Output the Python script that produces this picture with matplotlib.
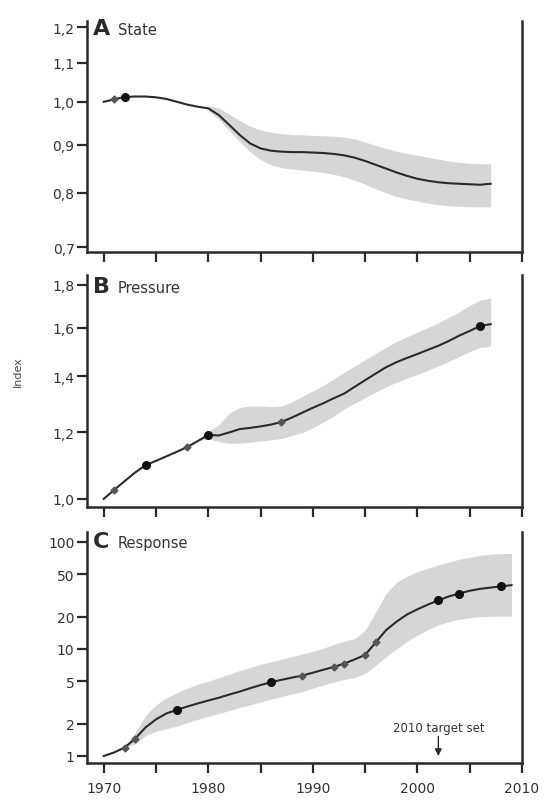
import matplotlib
matplotlib.use("Agg")
import matplotlib.pyplot as plt
from matplotlib.ticker import FixedLocator, FixedFormatter, NullLocator

# ---------------- data ----------------
years_a = list(range(1970, 2008))
state = [1.000, 1.006, 1.012, 1.013, 1.013, 1.011, 1.007, 1.000, 0.993, 0.988,
         0.984, 0.968, 0.945, 0.922, 0.903, 0.892, 0.887, 0.885, 0.884, 0.884,
         0.883, 0.882, 0.880, 0.877, 0.872, 0.865, 0.857, 0.849, 0.841, 0.834,
         0.828, 0.824, 0.821, 0.819, 0.818, 0.817, 0.816, 0.818]
band_years_a = list(range(1980, 2008))
state_lo = [0.978, 0.958, 0.932, 0.907, 0.885, 0.868, 0.857, 0.851, 0.848, 0.846,
            0.844, 0.841, 0.837, 0.832, 0.825, 0.817, 0.808, 0.800, 0.793, 0.788,
            0.784, 0.780, 0.777, 0.775, 0.774, 0.773, 0.773, 0.773]
state_hi = [0.990, 0.985, 0.970, 0.955, 0.942, 0.933, 0.928, 0.925, 0.923, 0.922,
            0.921, 0.920, 0.919, 0.917, 0.913, 0.906, 0.899, 0.892, 0.886, 0.881,
            0.877, 0.873, 0.869, 0.865, 0.862, 0.860, 0.859, 0.859]
state_dots = [1972]
state_small = [1971]

years_b = list(range(1970, 2008))
pressure = [1.000, 1.025, 1.050, 1.075, 1.097, 1.110, 1.124, 1.138, 1.153, 1.172,
            1.192, 1.190, 1.200, 1.211, 1.215, 1.220, 1.226, 1.235, 1.250, 1.267,
            1.284, 1.300, 1.318, 1.335, 1.360, 1.385, 1.410, 1.435, 1.455, 1.472,
            1.488, 1.505, 1.522, 1.542, 1.565, 1.585, 1.607, 1.615]
band_years_b = list(range(1979, 2008))
pressure_lo = [1.172, 1.180, 1.170, 1.165, 1.165, 1.168, 1.172, 1.176, 1.180, 1.190,
               1.200, 1.215, 1.235, 1.255, 1.280, 1.300, 1.320, 1.340, 1.360, 1.377,
               1.392, 1.407, 1.423, 1.440, 1.458, 1.478, 1.498, 1.515, 1.520]
pressure_hi = [1.172, 1.205, 1.225, 1.265, 1.285, 1.290, 1.290, 1.288, 1.290, 1.305,
               1.325, 1.345, 1.365, 1.390, 1.415, 1.440, 1.465, 1.490, 1.515, 1.540,
               1.560, 1.580, 1.600, 1.620, 1.645, 1.670, 1.700, 1.725, 1.735]
pressure_dots = [1974, 1980, 2006]
pressure_small = [1971, 1978, 1987]

years_c = list(range(1970, 2010))
response = [1.0, 1.08, 1.2, 1.45, 1.85, 2.2, 2.5, 2.7, 2.9, 3.1,
            3.3, 3.5, 3.75, 4.0, 4.3, 4.6, 4.9, 5.15, 5.4, 5.65,
            6.0, 6.4, 6.8, 7.3, 8.0, 8.8, 11.5, 15.0, 18.0, 21.0,
            23.5, 26.0, 28.5, 31.0, 33.0, 35.0, 36.5, 37.5, 38.5, 39.5]
band_years_c = list(range(1972, 2010))
response_lo = [1.2, 1.3, 1.55, 1.7, 1.8, 1.9, 2.05, 2.2, 2.35, 2.5,
               2.65, 2.85, 3.0, 3.2, 3.4, 3.6, 3.8, 4.0, 4.3, 4.6,
               4.9, 5.2, 5.4, 5.9, 7.0, 8.5, 10.0, 11.8, 13.5, 15.2,
               16.8, 18.0, 19.0, 19.6, 20.0, 20.2, 20.3, 20.3]
response_hi = [1.2, 1.65, 2.4, 3.0, 3.5, 3.9, 4.3, 4.7, 5.0, 5.4,
               5.8, 6.3, 6.7, 7.2, 7.6, 8.0, 8.5, 9.0, 9.5, 10.2,
               11.0, 11.8, 12.5, 15.0, 22.0, 33.0, 42.0, 48.0, 53.0, 57.0,
               61.0, 65.0, 69.0, 72.0, 75.0, 77.0, 78.0, 78.0]
response_dots = [1977, 1986, 2002, 2004, 2008]
response_small = [1972, 1973, 1989, 1992, 1993, 1995, 1996]
target_year = 2002
target_label = "2010 target set"

panel_letters = ["A", "B", "C"]
panel_names = ["State", "Pressure", "Response"]
ticks_a = [0.7, 0.8, 0.9, 1.0, 1.1, 1.2]
labels_a = ["0,7", "0,8", "0,9", "1,0", "1,1", "1,2"]
ticks_b = [1.0, 1.2, 1.4, 1.6, 1.8]
labels_b = ["1,0", "1,2", "1,4", "1,6", "1,8"]
ticks_c = [1, 2, 5, 10, 20, 50, 100]
labels_c = ["1", "2", "5", "10", "20", "50", "100"]
x_ticks = list(range(1970, 2011, 5))
x_labels = ["1970", "", "1980", "", "1990", "", "2000", "", "2010"]
y_label = "Index"

# ---------------- figure ----------------
W, H = 547, 803
fig = plt.figure(figsize=(W / 100, H / 100), dpi=100)

def frac_box(top_px, bot_px, left_px=87, right_px=522):
    return [left_px / W, 1 - bot_px / H, (right_px - left_px) / W, (bot_px - top_px) / H]

axA = fig.add_axes(frac_box(22, 253))
axB = fig.add_axes(frac_box(276, 508))
axC = fig.add_axes(frac_box(533, 764))

INK = "#2a2a2a"
BAND = "#d6d6d6"

def style(ax, ylim, ticks, labels, show_x_labels):
    ax.set_yscale("log")
    ax.set_xlim(1968.4, 2010)
    ax.set_ylim(*ylim)
    ax.yaxis.set_major_locator(FixedLocator(ticks))
    ax.yaxis.set_major_formatter(FixedFormatter(labels))
    ax.yaxis.set_minor_locator(NullLocator())
    ax.xaxis.set_major_locator(FixedLocator(x_ticks))
    ax.xaxis.set_minor_locator(NullLocator())
    if show_x_labels:
        ax.xaxis.set_major_formatter(FixedFormatter(x_labels))
    else:
        ax.xaxis.set_major_formatter(FixedFormatter([""] * len(x_ticks)))
    ax.spines["top"].set_visible(False)
    for s in ["left", "right", "bottom"]:
        ax.spines[s].set_linewidth(1.8)
        ax.spines[s].set_color(INK)
    ax.tick_params(axis="both", direction="out", length=7, width=1.6,
                   color=INK, labelcolor="#333333", labelsize=10)
    ax.tick_params(axis="x", pad=6)
    ax.tick_params(axis="y", pad=2, right=False)

def draw(ax, yrs, vals, byrs, lo, hi, dots, small):
    ax.fill_between(byrs, lo, hi, color=BAND, lw=0, zorder=1)
    ax.plot(yrs, vals, color=INK, lw=1.5, zorder=2)
    lookup = dict(zip(yrs, vals))
    ax.plot(small, [lookup[y] for y in small], ls="none", marker="D",
            ms=3.5, color="#555555", zorder=3)
    ax.plot(dots, [lookup[y] for y in dots], ls="none", marker="o",
            ms=5.5, color="#111111", zorder=4)

draw(axA, years_a, state, band_years_a, state_lo, state_hi, state_dots, state_small)
draw(axB, years_b, pressure, band_years_b, pressure_lo, pressure_hi, pressure_dots, pressure_small)
draw(axC, years_c, response, band_years_c, response_lo, response_hi, response_dots, response_small)

style(axA, (0.692, 1.219), ticks_a, labels_a, False)
style(axB, (0.978, 1.848), ticks_b, labels_b, False)
style(axC, (0.86, 124), ticks_c, labels_c, True)

title_y = [0.944, 0.927, 0.935]
for ax, letter, name, ty in zip([axA, axB, axC], panel_letters, panel_names, title_y):
    ax.text(0.013, ty, letter, transform=ax.transAxes, fontsize=16,
            fontweight="bold", color=INK, va="baseline", ha="left")
    ax.text(0.071, ty, name, transform=ax.transAxes, fontsize=10.5,
            color="#333333", va="baseline", ha="left")

axC.annotate(target_label, xy=(target_year, 1.0), xytext=(target_year, 1.62),
             ha="center", va="bottom", fontsize=8.5, color="#333333",
             arrowprops=dict(arrowstyle="-|>", color=INK, lw=1.0,
                             mutation_scale=10, shrinkA=0, shrinkB=0))

fig.text(18 / W, 1 - 372 / H, y_label, rotation=90, fontsize=8,
         color="#444444", ha="center", va="center")

fig.savefig("out.png", dpi=100)
